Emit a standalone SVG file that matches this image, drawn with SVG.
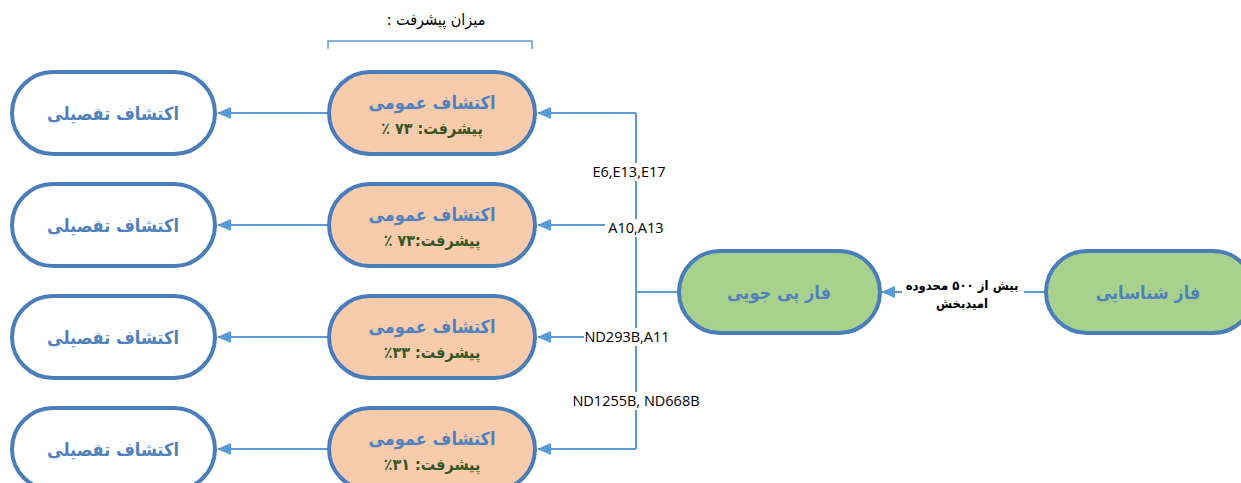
<svg xmlns="http://www.w3.org/2000/svg" width="1241" height="483" viewBox="0 0 1241 483">
<defs>
<marker id="arr" markerWidth="14" markerHeight="12" refX="13" refY="6" orient="auto" markerUnits="userSpaceOnUse">
<path d="M0,0 L14,6 L0,12 Z" fill="#5B9BD5"/>
</marker>
<style>
.node{stroke:#4A7EBB;stroke-width:4}
.white{fill:#FFFFFF}
.orange{fill:#F8CBAD}
.green{fill:#A9D18E}
.conn{stroke:#5B9BD5;stroke-width:2;fill:none}
.t{font-family:"DejaVu Sans Condensed","DejaVu Sans",sans-serif;font-weight:bold;text-anchor:middle;direction:rtl}
.blue{fill:#4F81BD;font-size:18px}
.prog{fill:#375623;font-size:16px}
.lbl{font-family:"Open Sans","Liberation Sans",sans-serif;font-size:14.5px;fill:#000;text-anchor:middle}
.plbl{font-family:"DejaVu Sans Condensed","DejaVu Sans",sans-serif;font-size:13px;font-weight:bold;fill:#000;text-anchor:middle;direction:rtl}
</style>
</defs>
<rect width="1241" height="483" fill="#FFFFFF"/>

<g id="title">
<text x="436" y="25" font-family="DejaVu Sans Condensed, DejaVu Sans, sans-serif" font-size="16" text-anchor="middle" direction="rtl" fill="#000">میزان پیشرفت :</text>
<path d="M328,49 V41 H532 V49" fill="none" stroke="#5B9BD5" stroke-width="1.5"/>
</g>

<g id="connectors">
<line class="conn" x1="1045" y1="292" x2="882" y2="292" marker-end="url(#arr)"/>
<line class="conn" x1="678" y1="292" x2="636" y2="292"/>
<line class="conn" x1="636" y1="113" x2="636" y2="449"/>
<line class="conn" x1="636" y1="113" x2="538" y2="113" marker-end="url(#arr)"/>
<line class="conn" x1="636" y1="225" x2="538" y2="225" marker-end="url(#arr)"/>
<line class="conn" x1="636" y1="337" x2="538" y2="337" marker-end="url(#arr)"/>
<line class="conn" x1="636" y1="449" x2="538" y2="449" marker-end="url(#arr)"/>
<line class="conn" x1="328" y1="113" x2="218" y2="113" marker-end="url(#arr)"/>
<line class="conn" x1="328" y1="225" x2="218" y2="225" marker-end="url(#arr)"/>
<line class="conn" x1="328" y1="337" x2="218" y2="337" marker-end="url(#arr)"/>
<line class="conn" x1="328" y1="449" x2="218" y2="449" marker-end="url(#arr)"/>
<rect x="586" y="163" width="88" height="18" fill="#FFFFFF"/>
<text class="lbl" x="629" y="177">E6,E13,E17</text>
<rect x="605" y="219" width="62" height="18" fill="#FFFFFF"/>
<text class="lbl" x="636" y="233">A10,A13</text>
<rect x="584" y="328" width="88" height="18" fill="#FFFFFF"/>
<text class="lbl" x="627" y="342">ND293B,A11</text>
<rect x="572" y="392" width="128" height="18" fill="#FFFFFF"/>
<text class="lbl" x="636" y="406">ND1255B, ND668B</text>
<rect x="902" y="274" width="122" height="38" fill="#FFFFFF"/>
<text class="plbl" x="962" y="290">بیش از ۵۰۰ محدوده</text>
<text class="plbl" x="962" y="308">امیدبخش</text>
</g>

<g id="n-shenasayi">
<rect class="node green" x="1046" y="251" width="208" height="82" rx="41"/>
<text class="t blue" x="1148" y="299">فاز شناسایی</text>
</g>
<g id="n-peyjooyi">
<rect class="node green" x="679" y="251" width="201" height="82" rx="41"/>
<text class="t blue" x="779" y="299">فاز پی جویی</text>
</g>

<g id="n-omumi-1">
<rect class="node orange" x="329" y="72" width="206" height="82" rx="41"/>
<text class="t blue" x="432" y="109">اکتشاف عمومی</text>
<text class="t prog" x="432" y="134">پیشرفت: ۷۳ ٪</text>
</g>
<g id="n-omumi-2">
<rect class="node orange" x="329" y="184" width="206" height="82" rx="41"/>
<text class="t blue" x="432" y="221">اکتشاف عمومی</text>
<text class="t prog" x="432" y="246">پیشرفت:۷۳ ٪</text>
</g>
<g id="n-omumi-3">
<rect class="node orange" x="329" y="296" width="206" height="82" rx="41"/>
<text class="t blue" x="432" y="333">اکتشاف عمومی</text>
<text class="t prog" x="432" y="358">پیشرفت: ۳۳٪</text>
</g>
<g id="n-omumi-4">
<rect class="node orange" x="329" y="408" width="206" height="82" rx="41"/>
<text class="t blue" x="432" y="445">اکتشاف عمومی</text>
<text class="t prog" x="432" y="470">پیشرفت: ۳۱٪</text>
</g>

<g id="n-tafsili-1">
<rect class="node white" x="12" y="72" width="203" height="82" rx="41"/>
<text class="t blue" x="113" y="120">اکتشاف تفصیلی</text>
</g>
<g id="n-tafsili-2">
<rect class="node white" x="12" y="184" width="203" height="82" rx="41"/>
<text class="t blue" x="113" y="232">اکتشاف تفصیلی</text>
</g>
<g id="n-tafsili-3">
<rect class="node white" x="12" y="296" width="203" height="82" rx="41"/>
<text class="t blue" x="113" y="344">اکتشاف تفصیلی</text>
</g>
<g id="n-tafsili-4">
<rect class="node white" x="12" y="408" width="203" height="82" rx="41"/>
<text class="t blue" x="113" y="456">اکتشاف تفصیلی</text>
</g>
</svg>
